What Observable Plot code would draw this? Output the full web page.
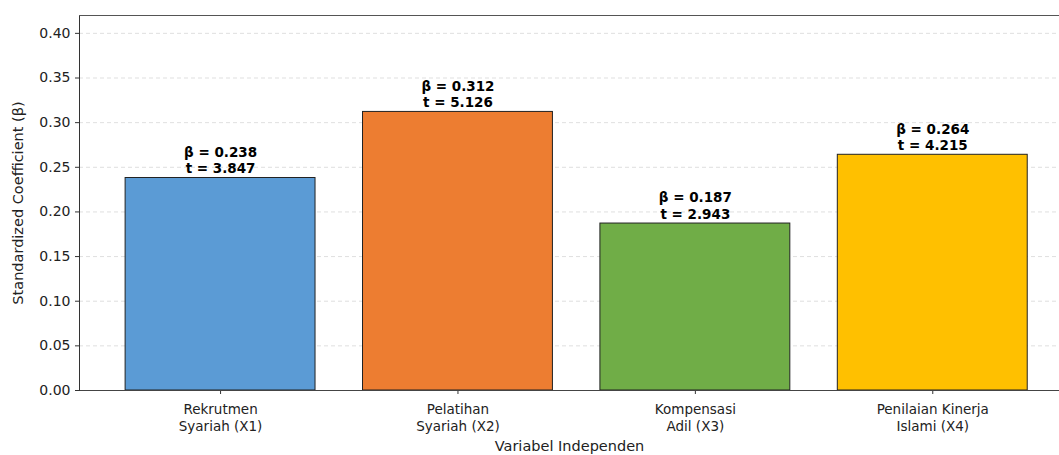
<!DOCTYPE html>
<html>
<head>
<meta charset="utf-8">
<script src="https://cdn.jsdelivr.net/npm/d3@7"></script>
<script src="https://cdn.jsdelivr.net/npm/@observablehq/plot@0.6"></script>
<style>
  html, body { margin: 0; padding: 0; background: #fff; overflow: hidden; }
  #chart { width: 1059px; height: 455px; overflow: hidden; }
  svg { font-family: "DejaVu Sans", sans-serif; }
</style>
</head>
<body>
<div id="chart"></div>
<script>
const categories = ["Rekrutmen\nSyariah (X1)", "Pelatihan\nSyariah (X2)", "Kompensasi\nAdil (X3)", "Penilaian Kinerja\nIslami (X4)"];
const betaValues = [0.238, 0.312, 0.187, 0.264];
const tValues = [3.847, 5.126, 2.943, 4.215];
const barColors = ["#5B9BD5", "#ED7D31", "#70AD47", "#FFC000"];
const yTicks = [0, 0.05, 0.10, 0.15, 0.20, 0.25, 0.30, 0.35, 0.40];

const data = categories.map((c, i) => ({
  cat: c, beta: betaValues[i], t: tValues[i], color: barColors[i],
  label: `β = ${betaValues[i].toFixed(3)}\nt = ${tValues[i].toFixed(3)}`
}));

const left = 79, step = 237.4, bandStart = 80;
const chart = Plot.plot({
  width: 1059,
  height: 455,
  marginTop: 15,
  marginBottom: 65,
  marginLeft: left,
  marginRight: 0,
  style: { fontFamily: "DejaVu Sans, sans-serif", fontSize: "13px", color: "#000", overflow: "hidden" },
  x: {
    type: "band",
    domain: categories,
    range: [bandStart, bandStart + 4.18 * step],
    paddingInner: 0.2,
    paddingOuter: 0.19,
    round: false,
    label: null
  },
  y: { domain: [0, 0.42], label: null },
  marks: [
    Plot.gridY(yTicks, { stroke: "#b0b0b0", strokeOpacity: 0.5, strokeDasharray: "4,3", strokeWidth: 0.8 }),
    Plot.barY(data, { x: "cat", y: "beta", fill: "color", stroke: "#222", strokeWidth: 1 }),
    Plot.text(data, { x: "cat", y: "beta", text: "label", lineAnchor: "bottom", dy: -5, fontWeight: "bold", fontSize: 13.5, fill: "#000", lineHeight: 1.2 }),
    Plot.axisY({ ticks: yTicks, tickFormat: d3.format(".2f"), fontSize: 14, tickSize: 4, tickPadding: 5, label: null, stroke: "#333", fill: "#222" }),
    Plot.axisX({ fontSize: 13.5, tickSize: 4, tickPadding: 8, label: null, lineHeight: 1.25, stroke: "#333", fill: "#222" }),
    Plot.ruleY([0], { stroke: "#444", strokeWidth: 1 }),
    Plot.frame({ anchor: "left", stroke: "#333" }),
    Plot.frame({ anchor: "top", stroke: "#555" }),
    Plot.text(["Standardized Coefficient (β)"], { frameAnchor: "left", dx: -61, rotate: -90, fontSize: 14.5, fill: "#222", textAnchor: "middle" }),
    Plot.text(["Variabel Independen"], { frameAnchor: "bottom", x: null, dy: 60, fontSize: 14.5, fill: "#222" })
  ]
});
document.getElementById("chart").appendChild(chart);
</script>
</body>
</html>
